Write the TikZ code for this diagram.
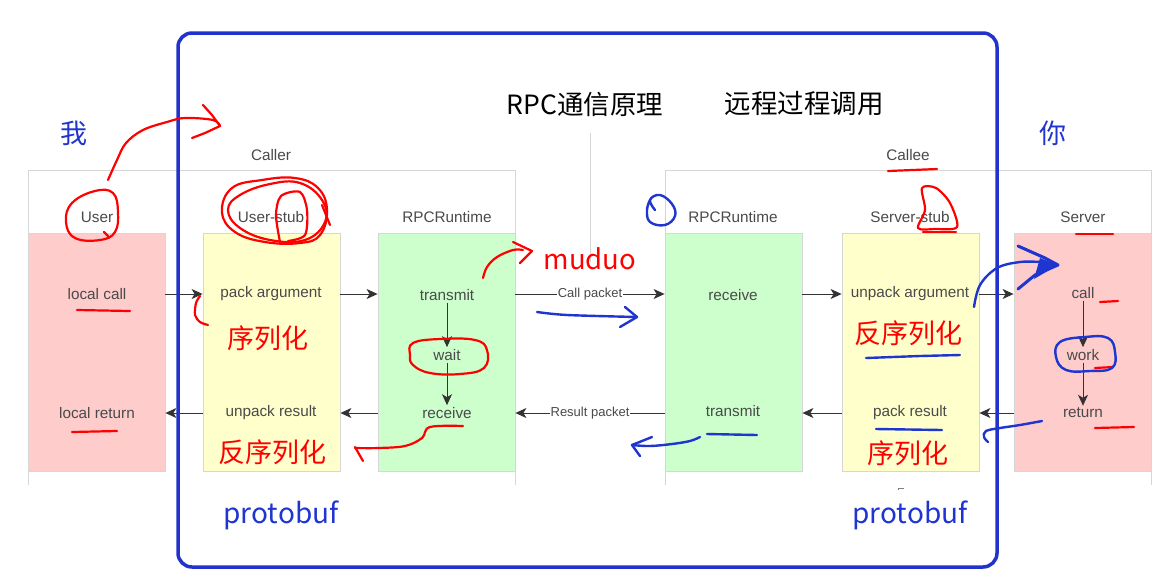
\documentclass[tikz,border=0pt]{standalone}
\usepackage{fontspec}
\setmainfont{Liberation Sans}
\newfontfamily\cjk{Noto Sans CJK SC}
\usetikzlibrary{arrows.meta}
\definecolor{pinkf}{HTML}{FFCCCC}
\definecolor{yellf}{HTML}{FFFFCC}
\definecolor{grnf}{HTML}{CCFFCC}
\definecolor{lanebd}{HTML}{D6D6D6}
\definecolor{txtg}{HTML}{4A4A4A}
\definecolor{inkred}{HTML}{FF0000}
\definecolor{inkblue}{HTML}{1F35D0}
\definecolor{boxblue}{HTML}{2233CC}
\begin{document}
\begin{tikzpicture}[x=1pt,y=-1pt,
  lanebox/.style={draw=lanebd, line width=0.8pt, minimum width=137pt, minimum height=238pt, inner sep=0pt},
  lbl/.style={text=txtg, font=\fontsize{15.3}{17}\selectfont, inner sep=2pt},
  hdr/.style={text=txtg, font=\fontsize{15.3}{17}\selectfont},
  arr/.style={-{Stealth[length=11pt,width=10pt,inset=3pt]}, line width=1pt, draw=black!80},
  pkt/.style={font=\fontsize{13}{15}\selectfont, text=txtg, fill=white, inner sep=1pt},
  pool/.style={draw=lanebd, line width=1pt},
  rink/.style={draw=inkred, line width=2.2pt, line cap=round, line join=round},
  bink/.style={draw=inkblue, line width=2.4pt, line cap=round, line join=round},
  cjkred/.style={text=inkred, font=\cjk\fontsize{27}{31}\selectfont},
  cjkblue/.style={text=inkblue, font=\cjk\fontsize{27}{31}\selectfont},
  latinred/.style={text=inkred, font=\cjk\fontsize{27.5}{31}\selectfont},
  latinblue/.style={text=inkblue, font=\cjk\fontsize{28}{31}\selectfont},
  titletext/.style={text=black, font=\cjk\fontsize{26.5}{31}\selectfont}]
\fill[white] (0,0) rectangle (1174,582);
\useasboundingbox (0,0) rectangle (1174,582);
% pools
\draw[pool] (28,485) -- (28,170) -- (515,170) -- (515,485);
\draw[pool] (665,485) -- (665,170) -- (1151,170) -- (1151,485);
\draw[pool] (590,133) -- (590,262);
% lane boxes
\node[lanebox, fill=pinkf] (userB) at (96.5,352) {};
\node[lanebox, fill=yellf] (stubB) at (271.5,352) {};
\node[lanebox, fill=grnf] (rtLB) at (446.5,352) {};
\node[lanebox, fill=grnf] (rtRB) at (733.5,352) {};
\node[lanebox, fill=yellf] (sstubB) at (910.5,352) {};
\node[lanebox, fill=pinkf] (servB) at (1082.5,352) {};
% headers
\node[hdr] (caller) at (271,155) {Caller};
\node[hdr] (callee) at (908,155) {Callee};
\node[hdr] (hUser) at (97,217) {User};
\node[hdr] (hStub) at (271,217) {User-stub};
\node[hdr] (hRtL) at (447,217) {RPCRuntime};
\node[hdr] (hRtR) at (733,217) {RPCRuntime};
\node[hdr] (hSStub) at (910,217) {Server-stub};
\node[hdr] (hServ) at (1083,217) {Server};
% row texts
\node[lbl] (lc) at (97,294) {local call};
\node[lbl] (pa) at (271,294) {pack argument};
\node[lbl] (trL) at (447,295) {transmit};
\node[lbl] (rcvR) at (733,295) {receive};
\node[lbl] (ua) at (910,294) {unpack argument};
\node[lbl] (callS) at (1083,293) {call};
\node[lbl] (waitL) at (447,355) {wait};
\node[lbl] (workS) at (1083,355) {work};
\node[lbl] (lr) at (97,413) {local return};
\node[lbl] (ur) at (271,413) {unpack result};
\node[lbl] (rcvL) at (447,413) {receive};
\node[lbl] (trR) at (733,411) {transmit};
\node[lbl] (pr) at (910,413) {pack result};
\node[lbl] (retS) at (1083,413) {return};
% connectors
\draw[arr] (lc -| userB.east) -- (pa -| stubB.west);
\draw[arr] (pa -| stubB.east) -- (pa -| rtLB.west);
\draw[arr] (pa -| rtLB.east) -- node[pkt]{Call packet} (pa -| rtRB.west);
\draw[arr] (pa -| rtRB.east) -- (pa -| sstubB.west);
\draw[arr] (pa -| sstubB.east) -- (pa -| servB.west);
\draw[arr] (trL) -- (waitL);
\draw[arr] (waitL) -- (rcvL);
\draw[arr] (callS) -- (workS);
\draw[arr] (workS) -- (retS);
\draw[arr] (retS -| servB.west) -- (retS -| sstubB.east);
\draw[arr] (retS -| sstubB.west) -- (retS -| rtRB.east);
\draw[arr] (retS -| rtRB.west) -- node[pkt]{Result packet} (retS -| rtLB.east);
\draw[arr] (retS -| rtLB.west) -- (ur -| stubB.east);
\draw[arr] (ur -| stubB.west) -- (lr -| userB.east);
% big blue frame
\draw[draw=boxblue, line width=3.5pt, rounded corners=14pt] (178,33) rectangle (997,567);
% titles and annotations
\node[titletext] (t1) at (585,104) {RPC通信原理};
\node[titletext] (t2) at (804,104) {远程过程调用};
\node[cjkblue] (wo) at (74,133) {我};
\node[cjkblue] (ni) at (1053,133) {你};
\node[latinred] (muduo) at (590,259) {muduo};
\node[cjkred] (serL) at (268,338) {序列化};
\node[cjkred] (deserL) at (272,452) {反序列化};
\node[cjkred] (deserR) at (908,333) {反序列化};
\node[cjkred] (serR) at (908,453) {序列化};
\node[latinblue] (pbL) at (281,515) {protobuf};
\node[latinblue] (pbR) at (910,515) {protobuf};
% red ink
\draw[rink] plot[smooth, tension=0.6] coordinates {(108,180) (117,160) (126,143) (143,130) (167,122) (185,118) (213,120) (220,126)};
\draw[rink] (203,105) -- (212,115) -- (220,126) -- (205,133) -- (192,138);
\draw[rink] plot[smooth cycle, tension=0.7] coordinates {(95,191) (113,193) (118,212) (115,232) (100,240) (75,238) (66,222) (72,203)};
\draw[rink] (104,232) -- (108,236);
\draw[rink] plot[smooth cycle, tension=0.7] coordinates {(232,188) (262,180) (295,178) (318,188) (327,210) (320,235) (300,243) (265,242) (235,232) (222,212)};
\draw[rink] plot[smooth cycle, tension=0.7] coordinates {(240,195) (270,184) (300,183) (322,200) (325,222) (305,240) (270,240) (240,228) (228,210)};
\draw[rink] plot[smooth, tension=0.5] coordinates {(280,242) (276,215) (281,196) (300,192) (307,210) (305,235) (288,241)};
\draw[rink] (322,205) -- (330,225);
\draw[rink] plot[smooth] coordinates {(200,296) (196,303) (195,315) (200,322) (208,325)};
\draw[rink] (77,310) -- (130,311);
\draw[rink] (72,432) -- (117,431);
\draw[rink] plot[smooth, tension=0.6] coordinates {(483,278) (487,267) (497,257) (513,250) (523,250)};
\draw[rink] (513,242) -- (532,251) -- (520,263);
\draw[rink] plot[smooth cycle, tension=0.7] coordinates {(413,343) (440,339) (475,340) (487,350) (484,368) (460,374) (430,373) (413,365) (410,355)};
\draw[rink] plot[smooth, tension=0.6] coordinates {(463,426) (430,427) (422,438) (405,446) (378,448) (355,448)};
\draw[rink] (355,447) -- (363,461);
\draw[rink] (888,171) -- (937,169);
\draw[rink] plot[smooth cycle, tension=0.5] coordinates {(922,188) (936,188) (950,203) (957,227) (935,229) (918,228) (925,210)};
\draw[rink] (923,232) -- (956,232);
\draw[rink] (1076,234) -- (1113,234);
\draw[rink] (1100,302) -- (1118,301);
\draw[rink] (1095,368) -- (1113,367);
\draw[rink] (1095,428) -- (1134,427);
% blue ink
\draw[bink] plot[smooth, tension=0.7] coordinates {(655,210) (650,200) (660,195) (672,204) (675,216) (665,225) (650,222) (647,210) (650,200)};
\draw[bink] plot[smooth] coordinates {(537,312) (567,315) (637,317)};
\draw[bink] (625,307) -- (637,317) -- (620,327);
\draw[bink] plot[smooth, tension=0.6] coordinates {(974,307) (980,285) (997,268) (1020,262) (1040,262)};
\draw[bink, line width=3pt] (1018,246) -- (1045,258) -- (1058,265) -- (1035,275) -- (1018,289);
\fill[inkblue] (1040,258) -- (1058,265) -- (1034,279) -- cycle;
\draw[bink] (866,358) -- (920,356) -- (960,355);
\draw[bink] plot[smooth cycle, tension=0.7] coordinates {(1060,342) (1085,337) (1108,338) (1115,352) (1112,368) (1090,371) (1066,370) (1056,357)};
\draw[bink] (876,429) -- (942,430);
\draw[bink] (707,434) -- (757,435);
\draw[bink] plot[smooth, tension=0.6] coordinates {(700,437) (690,441) (672,444) (650,446) (632,445)};
\draw[bink] (652,437) -- (632,445) -- (640,456);
\draw[bink] plot[smooth, tension=0.6] coordinates {(1042,421) (1020,425) (1000,428) (986,431) (984,437) (988,442)};
\draw[black!50, line width=0.6pt] (904,488) -- (898,488) -- (898,490);
\end{tikzpicture}
\end{document}
